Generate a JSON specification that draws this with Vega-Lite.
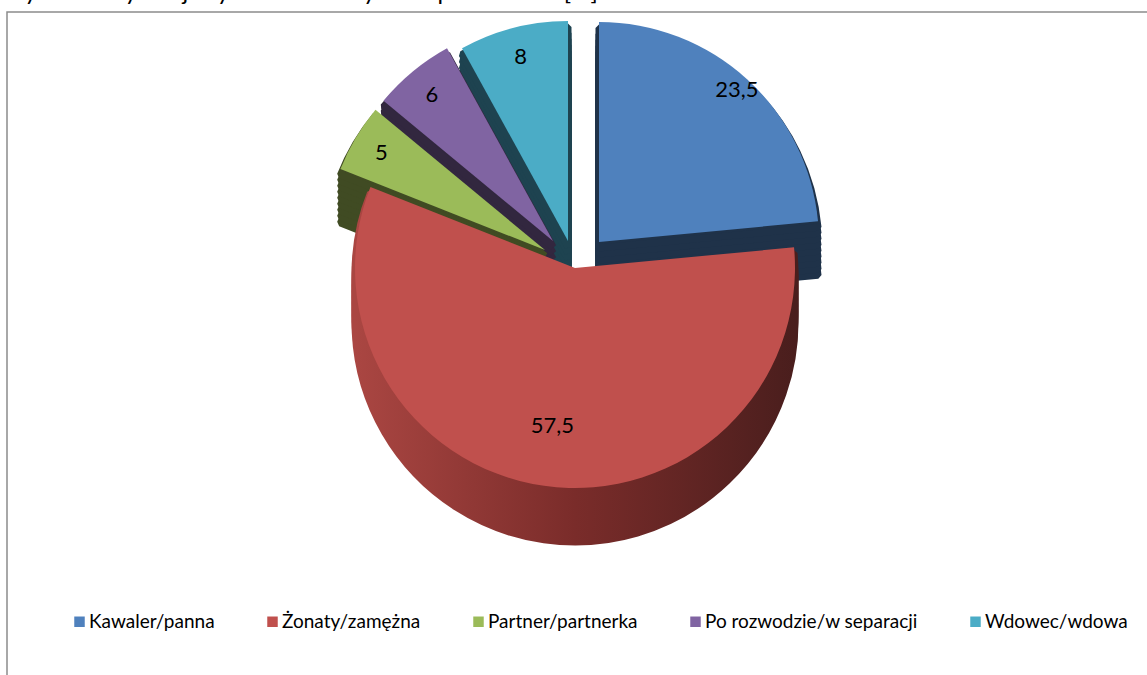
{
"$schema": "https://vega.github.io/schema/vega-lite/v6.json",
"width": 1150, "height": 668,
"autosize": {"type": "none"},
"padding": {"left": 7, "top": 12, "right": 0, "bottom": 0},
"background": "white",
"view": {"stroke": "#8C8C8C", "strokeWidth": 1.5, "fill": null},
"title": {"text": "Wykres 3. Sytuacja życiowa dorosłych respondentów [%].", "anchor": "start", "frame": "group", "orient": "top", "offset": -12, "baseline": "alphabetic", "fontSize": 24, "font": "Lato", "fontWeight": "normal", "color": "black", "dx": -7},
"config": {"view": {"stroke": "#8C8C8C", "strokeWidth": 1.5}, "font": "Lato"},
"data": {"values": [
 {"idx": 1, "cat": "Kawaler/panna", "value": 23.5, "label": "23,5"},
 {"idx": 2, "cat": "Żonaty/zamężna", "value": 57.5, "label": "57,5"},
 {"idx": 3, "cat": "Partner/partnerka", "value": 5, "label": "5"},
 {"idx": 4, "cat": "Po rozwodzie/w separacji", "value": 6, "label": "6"},
 {"idx": 5, "cat": "Wdowec/wdowa", "value": 8, "label": "8"}
]},
"transform": [{"stack": "value", "groupby": [], "sort": [{"field": "idx", "order": "ascending"}], "as": ["v0", "v1"]}],
"layer": [
 {"transform": [{"filter": {"field": "idx", "equal": 5}}], "mark": {"type": "arc", "radius": 220, "xOffset": -14, "yOffset": -51, "fill": "#1E4350", "stroke": "#1E4350", "strokeWidth": 7, "strokeJoin": "bevel"}, "encoding": {"theta": {"field": "v0", "type": "quantitative", "scale": {"domain": [0, 100]}, "stack": null}, "theta2": {"field": "v1"}}},
 {"transform": [{"filter": {"field": "idx", "equal": 5}}], "mark": {"type": "arc", "radius": 220, "xOffset": -14, "yOffset": -57, "fill": "#1E4350", "stroke": "#1E4350", "strokeWidth": 7, "strokeJoin": "bevel"}, "encoding": {"theta": {"field": "v0", "type": "quantitative", "scale": {"domain": [0, 100]}, "stack": null}, "theta2": {"field": "v1"}}},
 {"transform": [{"filter": {"field": "idx", "equal": 5}}], "mark": {"type": "arc", "radius": 220, "xOffset": -14, "yOffset": -63, "fill": "#1E4350", "stroke": "#1E4350", "strokeWidth": 7, "strokeJoin": "bevel"}, "encoding": {"theta": {"field": "v0", "type": "quantitative", "scale": {"domain": [0, 100]}, "stack": null}, "theta2": {"field": "v1"}}},
 {"transform": [{"filter": {"field": "idx", "equal": 5}}], "mark": {"type": "arc", "radius": 220, "xOffset": -14, "yOffset": -69, "fill": "#1E4350", "stroke": "#1E4350", "strokeWidth": 7, "strokeJoin": "bevel"}, "encoding": {"theta": {"field": "v0", "type": "quantitative", "scale": {"domain": [0, 100]}, "stack": null}, "theta2": {"field": "v1"}}},
 {"transform": [{"filter": {"field": "idx", "equal": 5}}], "mark": {"type": "arc", "radius": 220, "xOffset": -14, "yOffset": -75, "fill": "#1E4350", "stroke": "#1E4350", "strokeWidth": 7, "strokeJoin": "bevel"}, "encoding": {"theta": {"field": "v0", "type": "quantitative", "scale": {"domain": [0, 100]}, "stack": null}, "theta2": {"field": "v1"}}},
 {"transform": [{"filter": {"field": "idx", "equal": 5}}], "mark": {"type": "arc", "radius": 220, "xOffset": -14, "yOffset": -81, "fill": "#1E4350", "stroke": "#1E4350", "strokeWidth": 7, "strokeJoin": "bevel"}, "encoding": {"theta": {"field": "v0", "type": "quantitative", "scale": {"domain": [0, 100]}, "stack": null}, "theta2": {"field": "v1"}}},
 {"transform": [{"filter": {"field": "idx", "equal": 5}}], "mark": {"type": "arc", "radius": 220, "xOffset": -14, "yOffset": -87, "fill": "#1E4350", "stroke": "#1E4350", "strokeWidth": 7, "strokeJoin": "bevel"}, "encoding": {"theta": {"field": "v0", "type": "quantitative", "scale": {"domain": [0, 100]}, "stack": null}, "theta2": {"field": "v1"}}},
 {"transform": [{"filter": {"field": "idx", "equal": 5}}], "mark": {"type": "arc", "radius": 220, "xOffset": -14, "yOffset": -93, "fill": "#1E4350", "stroke": "#1E4350", "strokeWidth": 7, "strokeJoin": "bevel"}, "encoding": {"theta": {"field": "v0", "type": "quantitative", "scale": {"domain": [0, 100]}, "stack": null}, "theta2": {"field": "v1"}}},
 {"transform": [{"filter": {"field": "idx", "equal": 5}}], "mark": {"type": "arc", "radius": 220, "xOffset": -14, "yOffset": -99, "fill": "#1E4350", "stroke": "#1E4350", "strokeWidth": 7, "strokeJoin": "bevel"}, "encoding": {"theta": {"field": "v0", "type": "quantitative", "scale": {"domain": [0, 100]}, "stack": null}, "theta2": {"field": "v1"}}},
 {"transform": [{"filter": {"field": "idx", "equal": 5}}], "mark": {"type": "arc", "radius": 220, "xOffset": -14, "yOffset": -105}, "encoding": {"theta": {"field": "v0", "type": "quantitative", "scale": {"domain": [0, 100]}, "stack": null}, "theta2": {"field": "v1"}, "color": {"field": "cat", "type": "nominal", "scale": {"domain": ["Kawaler/panna", "Żonaty/zamężna", "Partner/partnerka", "Po rozwodzie/w separacji", "Wdowec/wdowa"], "range": ["#4F81BD", "#C0504D", "#9BBB59", "#8064A2", "#4BACC6"]}, "legend": {"orient": "none", "legendX": 63, "legendY": 600, "direction": "horizontal", "columns": 5, "title": null, "symbolType": "square", "symbolSize": 110, "symbolStrokeWidth": 0, "labelFontSize": 19, "labelFont": "Lato", "labelColor": "black", "columnPadding": 48, "labelOffset": 0, "padding": 0, "labelLimit": 400}}}},

 {"transform": [{"filter": {"field": "idx", "equal": 4}}], "mark": {"type": "arc", "radius": 220, "xOffset": -29, "yOffset": -51, "fill": "#32273F", "stroke": "#32273F", "strokeWidth": 7, "strokeJoin": "bevel"}, "encoding": {"theta": {"field": "v0", "type": "quantitative", "scale": {"domain": [0, 100]}, "stack": null}, "theta2": {"field": "v1"}}},
 {"transform": [{"filter": {"field": "idx", "equal": 4}}], "mark": {"type": "arc", "radius": 220, "xOffset": -29, "yOffset": -57, "fill": "#32273F", "stroke": "#32273F", "strokeWidth": 7, "strokeJoin": "bevel"}, "encoding": {"theta": {"field": "v0", "type": "quantitative", "scale": {"domain": [0, 100]}, "stack": null}, "theta2": {"field": "v1"}}},
 {"transform": [{"filter": {"field": "idx", "equal": 4}}], "mark": {"type": "arc", "radius": 220, "xOffset": -29, "yOffset": -63, "fill": "#32273F", "stroke": "#32273F", "strokeWidth": 7, "strokeJoin": "bevel"}, "encoding": {"theta": {"field": "v0", "type": "quantitative", "scale": {"domain": [0, 100]}, "stack": null}, "theta2": {"field": "v1"}}},
 {"transform": [{"filter": {"field": "idx", "equal": 4}}], "mark": {"type": "arc", "radius": 220, "xOffset": -29, "yOffset": -69, "fill": "#32273F", "stroke": "#32273F", "strokeWidth": 7, "strokeJoin": "bevel"}, "encoding": {"theta": {"field": "v0", "type": "quantitative", "scale": {"domain": [0, 100]}, "stack": null}, "theta2": {"field": "v1"}}},
 {"transform": [{"filter": {"field": "idx", "equal": 4}}], "mark": {"type": "arc", "radius": 220, "xOffset": -29, "yOffset": -75, "fill": "#32273F", "stroke": "#32273F", "strokeWidth": 7, "strokeJoin": "bevel"}, "encoding": {"theta": {"field": "v0", "type": "quantitative", "scale": {"domain": [0, 100]}, "stack": null}, "theta2": {"field": "v1"}}},
 {"transform": [{"filter": {"field": "idx", "equal": 4}}], "mark": {"type": "arc", "radius": 220, "xOffset": -29, "yOffset": -81, "fill": "#32273F", "stroke": "#32273F", "strokeWidth": 7, "strokeJoin": "bevel"}, "encoding": {"theta": {"field": "v0", "type": "quantitative", "scale": {"domain": [0, 100]}, "stack": null}, "theta2": {"field": "v1"}}},
 {"transform": [{"filter": {"field": "idx", "equal": 4}}], "mark": {"type": "arc", "radius": 220, "xOffset": -29, "yOffset": -87, "fill": "#32273F", "stroke": "#32273F", "strokeWidth": 7, "strokeJoin": "bevel"}, "encoding": {"theta": {"field": "v0", "type": "quantitative", "scale": {"domain": [0, 100]}, "stack": null}, "theta2": {"field": "v1"}}},
 {"transform": [{"filter": {"field": "idx", "equal": 4}}], "mark": {"type": "arc", "radius": 220, "xOffset": -29, "yOffset": -93, "fill": "#32273F", "stroke": "#32273F", "strokeWidth": 7, "strokeJoin": "bevel"}, "encoding": {"theta": {"field": "v0", "type": "quantitative", "scale": {"domain": [0, 100]}, "stack": null}, "theta2": {"field": "v1"}}},
 {"transform": [{"filter": {"field": "idx", "equal": 4}}], "mark": {"type": "arc", "radius": 220, "xOffset": -29, "yOffset": -99, "fill": "#32273F", "stroke": "#32273F", "strokeWidth": 7, "strokeJoin": "bevel"}, "encoding": {"theta": {"field": "v0", "type": "quantitative", "scale": {"domain": [0, 100]}, "stack": null}, "theta2": {"field": "v1"}}},
 {"transform": [{"filter": {"field": "idx", "equal": 4}}], "mark": {"type": "arc", "radius": 220, "xOffset": -29, "yOffset": -105}, "encoding": {"theta": {"field": "v0", "type": "quantitative", "scale": {"domain": [0, 100]}, "stack": null}, "theta2": {"field": "v1"}, "color": {"field": "cat", "type": "nominal", "scale": {"domain": ["Kawaler/panna", "Żonaty/zamężna", "Partner/partnerka", "Po rozwodzie/w separacji", "Wdowec/wdowa"], "range": ["#4F81BD", "#C0504D", "#9BBB59", "#8064A2", "#4BACC6"]}, "legend": {"orient": "none", "legendX": 63, "legendY": 600, "direction": "horizontal", "columns": 5, "title": null, "symbolType": "square", "symbolSize": 110, "symbolStrokeWidth": 0, "labelFontSize": 19, "labelFont": "Lato", "labelColor": "black", "columnPadding": 48, "labelOffset": 0, "padding": 0, "labelLimit": 400}}}},

 {"transform": [{"filter": {"field": "idx", "equal": 3}}], "mark": {"type": "arc", "radius": 220, "xOffset": -37, "yOffset": -42, "fill": "#404B23", "stroke": "#404B23", "strokeWidth": 7, "strokeJoin": "bevel"}, "encoding": {"theta": {"field": "v0", "type": "quantitative", "scale": {"domain": [0, 100]}, "stack": null}, "theta2": {"field": "v1"}}},
 {"transform": [{"filter": {"field": "idx", "equal": 3}}], "mark": {"type": "arc", "radius": 220, "xOffset": -37, "yOffset": -48, "fill": "#404B23", "stroke": "#404B23", "strokeWidth": 7, "strokeJoin": "bevel"}, "encoding": {"theta": {"field": "v0", "type": "quantitative", "scale": {"domain": [0, 100]}, "stack": null}, "theta2": {"field": "v1"}}},
 {"transform": [{"filter": {"field": "idx", "equal": 3}}], "mark": {"type": "arc", "radius": 220, "xOffset": -37, "yOffset": -54, "fill": "#404B23", "stroke": "#404B23", "strokeWidth": 7, "strokeJoin": "bevel"}, "encoding": {"theta": {"field": "v0", "type": "quantitative", "scale": {"domain": [0, 100]}, "stack": null}, "theta2": {"field": "v1"}}},
 {"transform": [{"filter": {"field": "idx", "equal": 3}}], "mark": {"type": "arc", "radius": 220, "xOffset": -37, "yOffset": -60, "fill": "#404B23", "stroke": "#404B23", "strokeWidth": 7, "strokeJoin": "bevel"}, "encoding": {"theta": {"field": "v0", "type": "quantitative", "scale": {"domain": [0, 100]}, "stack": null}, "theta2": {"field": "v1"}}},
 {"transform": [{"filter": {"field": "idx", "equal": 3}}], "mark": {"type": "arc", "radius": 220, "xOffset": -37, "yOffset": -66, "fill": "#404B23", "stroke": "#404B23", "strokeWidth": 7, "strokeJoin": "bevel"}, "encoding": {"theta": {"field": "v0", "type": "quantitative", "scale": {"domain": [0, 100]}, "stack": null}, "theta2": {"field": "v1"}}},
 {"transform": [{"filter": {"field": "idx", "equal": 3}}], "mark": {"type": "arc", "radius": 220, "xOffset": -37, "yOffset": -72, "fill": "#404B23", "stroke": "#404B23", "strokeWidth": 7, "strokeJoin": "bevel"}, "encoding": {"theta": {"field": "v0", "type": "quantitative", "scale": {"domain": [0, 100]}, "stack": null}, "theta2": {"field": "v1"}}},
 {"transform": [{"filter": {"field": "idx", "equal": 3}}], "mark": {"type": "arc", "radius": 220, "xOffset": -37, "yOffset": -78, "fill": "#404B23", "stroke": "#404B23", "strokeWidth": 7, "strokeJoin": "bevel"}, "encoding": {"theta": {"field": "v0", "type": "quantitative", "scale": {"domain": [0, 100]}, "stack": null}, "theta2": {"field": "v1"}}},
 {"transform": [{"filter": {"field": "idx", "equal": 3}}], "mark": {"type": "arc", "radius": 220, "xOffset": -37, "yOffset": -84, "fill": "#404B23", "stroke": "#404B23", "strokeWidth": 7, "strokeJoin": "bevel"}, "encoding": {"theta": {"field": "v0", "type": "quantitative", "scale": {"domain": [0, 100]}, "stack": null}, "theta2": {"field": "v1"}}},
 {"transform": [{"filter": {"field": "idx", "equal": 3}}], "mark": {"type": "arc", "radius": 220, "xOffset": -37, "yOffset": -90, "fill": "#404B23", "stroke": "#404B23", "strokeWidth": 7, "strokeJoin": "bevel"}, "encoding": {"theta": {"field": "v0", "type": "quantitative", "scale": {"domain": [0, 100]}, "stack": null}, "theta2": {"field": "v1"}}},
 {"transform": [{"filter": {"field": "idx", "equal": 3}}], "mark": {"type": "arc", "radius": 220, "xOffset": -37, "yOffset": -96}, "encoding": {"theta": {"field": "v0", "type": "quantitative", "scale": {"domain": [0, 100]}, "stack": null}, "theta2": {"field": "v1"}, "color": {"field": "cat", "type": "nominal", "scale": {"domain": ["Kawaler/panna", "Żonaty/zamężna", "Partner/partnerka", "Po rozwodzie/w separacji", "Wdowec/wdowa"], "range": ["#4F81BD", "#C0504D", "#9BBB59", "#8064A2", "#4BACC6"]}, "legend": {"orient": "none", "legendX": 63, "legendY": 600, "direction": "horizontal", "columns": 5, "title": null, "symbolType": "square", "symbolSize": 110, "symbolStrokeWidth": 0, "labelFontSize": 19, "labelFont": "Lato", "labelColor": "black", "columnPadding": 48, "labelOffset": 0, "padding": 0, "labelLimit": 400}}}},

 {"transform": [{"filter": {"field": "idx", "equal": 1}}], "mark": {"type": "arc", "radius": 220, "xOffset": 17, "yOffset": -50, "fill": "#1F3249", "stroke": "#1F3249", "strokeWidth": 7, "strokeJoin": "bevel"}, "encoding": {"theta": {"field": "v0", "type": "quantitative", "scale": {"domain": [0, 100]}, "stack": null}, "theta2": {"field": "v1"}}},
 {"transform": [{"filter": {"field": "idx", "equal": 1}}], "mark": {"type": "arc", "radius": 220, "xOffset": 17, "yOffset": -56, "fill": "#1F3249", "stroke": "#1F3249", "strokeWidth": 7, "strokeJoin": "bevel"}, "encoding": {"theta": {"field": "v0", "type": "quantitative", "scale": {"domain": [0, 100]}, "stack": null}, "theta2": {"field": "v1"}}},
 {"transform": [{"filter": {"field": "idx", "equal": 1}}], "mark": {"type": "arc", "radius": 220, "xOffset": 17, "yOffset": -62, "fill": "#1F3249", "stroke": "#1F3249", "strokeWidth": 7, "strokeJoin": "bevel"}, "encoding": {"theta": {"field": "v0", "type": "quantitative", "scale": {"domain": [0, 100]}, "stack": null}, "theta2": {"field": "v1"}}},
 {"transform": [{"filter": {"field": "idx", "equal": 1}}], "mark": {"type": "arc", "radius": 220, "xOffset": 17, "yOffset": -68, "fill": "#1F3249", "stroke": "#1F3249", "strokeWidth": 7, "strokeJoin": "bevel"}, "encoding": {"theta": {"field": "v0", "type": "quantitative", "scale": {"domain": [0, 100]}, "stack": null}, "theta2": {"field": "v1"}}},
 {"transform": [{"filter": {"field": "idx", "equal": 1}}], "mark": {"type": "arc", "radius": 220, "xOffset": 17, "yOffset": -74, "fill": "#1F3249", "stroke": "#1F3249", "strokeWidth": 7, "strokeJoin": "bevel"}, "encoding": {"theta": {"field": "v0", "type": "quantitative", "scale": {"domain": [0, 100]}, "stack": null}, "theta2": {"field": "v1"}}},
 {"transform": [{"filter": {"field": "idx", "equal": 1}}], "mark": {"type": "arc", "radius": 220, "xOffset": 17, "yOffset": -80, "fill": "#1F3249", "stroke": "#1F3249", "strokeWidth": 7, "strokeJoin": "bevel"}, "encoding": {"theta": {"field": "v0", "type": "quantitative", "scale": {"domain": [0, 100]}, "stack": null}, "theta2": {"field": "v1"}}},
 {"transform": [{"filter": {"field": "idx", "equal": 1}}], "mark": {"type": "arc", "radius": 220, "xOffset": 17, "yOffset": -86, "fill": "#1F3249", "stroke": "#1F3249", "strokeWidth": 7, "strokeJoin": "bevel"}, "encoding": {"theta": {"field": "v0", "type": "quantitative", "scale": {"domain": [0, 100]}, "stack": null}, "theta2": {"field": "v1"}}},
 {"transform": [{"filter": {"field": "idx", "equal": 1}}], "mark": {"type": "arc", "radius": 220, "xOffset": 17, "yOffset": -92, "fill": "#1F3249", "stroke": "#1F3249", "strokeWidth": 7, "strokeJoin": "bevel"}, "encoding": {"theta": {"field": "v0", "type": "quantitative", "scale": {"domain": [0, 100]}, "stack": null}, "theta2": {"field": "v1"}}},
 {"transform": [{"filter": {"field": "idx", "equal": 1}}], "mark": {"type": "arc", "radius": 220, "xOffset": 17, "yOffset": -98, "fill": "#1F3249", "stroke": "#1F3249", "strokeWidth": 7, "strokeJoin": "bevel"}, "encoding": {"theta": {"field": "v0", "type": "quantitative", "scale": {"domain": [0, 100]}, "stack": null}, "theta2": {"field": "v1"}}},
 {"transform": [{"filter": {"field": "idx", "equal": 1}}], "mark": {"type": "arc", "radius": 220, "xOffset": 17, "yOffset": -104}, "encoding": {"theta": {"field": "v0", "type": "quantitative", "scale": {"domain": [0, 100]}, "stack": null}, "theta2": {"field": "v1"}, "color": {"field": "cat", "type": "nominal", "scale": {"domain": ["Kawaler/panna", "Żonaty/zamężna", "Partner/partnerka", "Po rozwodzie/w separacji", "Wdowec/wdowa"], "range": ["#4F81BD", "#C0504D", "#9BBB59", "#8064A2", "#4BACC6"]}, "legend": {"orient": "none", "legendX": 63, "legendY": 600, "direction": "horizontal", "columns": 5, "title": null, "symbolType": "square", "symbolSize": 110, "symbolStrokeWidth": 0, "labelFontSize": 19, "labelFont": "Lato", "labelColor": "black", "columnPadding": 48, "labelOffset": 0, "padding": 0, "labelLimit": 400}}}},

 {"transform": [{"filter": {"field": "idx", "equal": 2}}], "mark": {"type": "arc", "radius": 220, "xOffset": -7, "yOffset": -24, "fill": {"gradient": "linear", "x1": 0, "y1": 0, "x2": 1, "y2": 0, "stops": [{"offset": 0, "color": "#AA4642"}, {"offset": 0.5, "color": "#7A2C2A"}, {"offset": 1, "color": "#4A1E1D"}]}, "stroke": {"gradient": "linear", "x1": 0, "y1": 0, "x2": 1, "y2": 0, "stops": [{"offset": 0, "color": "#AA4642"}, {"offset": 0.5, "color": "#7A2C2A"}, {"offset": 1, "color": "#4A1E1D"}]}, "strokeWidth": 7, "strokeJoin": "bevel"}, "encoding": {"theta": {"field": "v0", "type": "quantitative", "scale": {"domain": [0, 100]}, "stack": null}, "theta2": {"field": "v1"}}},
 {"transform": [{"filter": {"field": "idx", "equal": 2}}], "mark": {"type": "arc", "radius": 220, "xOffset": -7, "yOffset": -30, "fill": {"gradient": "linear", "x1": 0, "y1": 0, "x2": 1, "y2": 0, "stops": [{"offset": 0, "color": "#AA4642"}, {"offset": 0.5, "color": "#7A2C2A"}, {"offset": 1, "color": "#4A1E1D"}]}, "stroke": {"gradient": "linear", "x1": 0, "y1": 0, "x2": 1, "y2": 0, "stops": [{"offset": 0, "color": "#AA4642"}, {"offset": 0.5, "color": "#7A2C2A"}, {"offset": 1, "color": "#4A1E1D"}]}, "strokeWidth": 7, "strokeJoin": "bevel"}, "encoding": {"theta": {"field": "v0", "type": "quantitative", "scale": {"domain": [0, 100]}, "stack": null}, "theta2": {"field": "v1"}}},
 {"transform": [{"filter": {"field": "idx", "equal": 2}}], "mark": {"type": "arc", "radius": 220, "xOffset": -7, "yOffset": -36, "fill": {"gradient": "linear", "x1": 0, "y1": 0, "x2": 1, "y2": 0, "stops": [{"offset": 0, "color": "#AA4642"}, {"offset": 0.5, "color": "#7A2C2A"}, {"offset": 1, "color": "#4A1E1D"}]}, "stroke": {"gradient": "linear", "x1": 0, "y1": 0, "x2": 1, "y2": 0, "stops": [{"offset": 0, "color": "#AA4642"}, {"offset": 0.5, "color": "#7A2C2A"}, {"offset": 1, "color": "#4A1E1D"}]}, "strokeWidth": 7, "strokeJoin": "bevel"}, "encoding": {"theta": {"field": "v0", "type": "quantitative", "scale": {"domain": [0, 100]}, "stack": null}, "theta2": {"field": "v1"}}},
 {"transform": [{"filter": {"field": "idx", "equal": 2}}], "mark": {"type": "arc", "radius": 220, "xOffset": -7, "yOffset": -42, "fill": {"gradient": "linear", "x1": 0, "y1": 0, "x2": 1, "y2": 0, "stops": [{"offset": 0, "color": "#AA4642"}, {"offset": 0.5, "color": "#7A2C2A"}, {"offset": 1, "color": "#4A1E1D"}]}, "stroke": {"gradient": "linear", "x1": 0, "y1": 0, "x2": 1, "y2": 0, "stops": [{"offset": 0, "color": "#AA4642"}, {"offset": 0.5, "color": "#7A2C2A"}, {"offset": 1, "color": "#4A1E1D"}]}, "strokeWidth": 7, "strokeJoin": "bevel"}, "encoding": {"theta": {"field": "v0", "type": "quantitative", "scale": {"domain": [0, 100]}, "stack": null}, "theta2": {"field": "v1"}}},
 {"transform": [{"filter": {"field": "idx", "equal": 2}}], "mark": {"type": "arc", "radius": 220, "xOffset": -7, "yOffset": -48, "fill": {"gradient": "linear", "x1": 0, "y1": 0, "x2": 1, "y2": 0, "stops": [{"offset": 0, "color": "#AA4642"}, {"offset": 0.5, "color": "#7A2C2A"}, {"offset": 1, "color": "#4A1E1D"}]}, "stroke": {"gradient": "linear", "x1": 0, "y1": 0, "x2": 1, "y2": 0, "stops": [{"offset": 0, "color": "#AA4642"}, {"offset": 0.5, "color": "#7A2C2A"}, {"offset": 1, "color": "#4A1E1D"}]}, "strokeWidth": 7, "strokeJoin": "bevel"}, "encoding": {"theta": {"field": "v0", "type": "quantitative", "scale": {"domain": [0, 100]}, "stack": null}, "theta2": {"field": "v1"}}},
 {"transform": [{"filter": {"field": "idx", "equal": 2}}], "mark": {"type": "arc", "radius": 220, "xOffset": -7, "yOffset": -54, "fill": {"gradient": "linear", "x1": 0, "y1": 0, "x2": 1, "y2": 0, "stops": [{"offset": 0, "color": "#AA4642"}, {"offset": 0.5, "color": "#7A2C2A"}, {"offset": 1, "color": "#4A1E1D"}]}, "stroke": {"gradient": "linear", "x1": 0, "y1": 0, "x2": 1, "y2": 0, "stops": [{"offset": 0, "color": "#AA4642"}, {"offset": 0.5, "color": "#7A2C2A"}, {"offset": 1, "color": "#4A1E1D"}]}, "strokeWidth": 7, "strokeJoin": "bevel"}, "encoding": {"theta": {"field": "v0", "type": "quantitative", "scale": {"domain": [0, 100]}, "stack": null}, "theta2": {"field": "v1"}}},
 {"transform": [{"filter": {"field": "idx", "equal": 2}}], "mark": {"type": "arc", "radius": 220, "xOffset": -7, "yOffset": -60, "fill": {"gradient": "linear", "x1": 0, "y1": 0, "x2": 1, "y2": 0, "stops": [{"offset": 0, "color": "#AA4642"}, {"offset": 0.5, "color": "#7A2C2A"}, {"offset": 1, "color": "#4A1E1D"}]}, "stroke": {"gradient": "linear", "x1": 0, "y1": 0, "x2": 1, "y2": 0, "stops": [{"offset": 0, "color": "#AA4642"}, {"offset": 0.5, "color": "#7A2C2A"}, {"offset": 1, "color": "#4A1E1D"}]}, "strokeWidth": 7, "strokeJoin": "bevel"}, "encoding": {"theta": {"field": "v0", "type": "quantitative", "scale": {"domain": [0, 100]}, "stack": null}, "theta2": {"field": "v1"}}},
 {"transform": [{"filter": {"field": "idx", "equal": 2}}], "mark": {"type": "arc", "radius": 220, "xOffset": -7, "yOffset": -66, "fill": {"gradient": "linear", "x1": 0, "y1": 0, "x2": 1, "y2": 0, "stops": [{"offset": 0, "color": "#AA4642"}, {"offset": 0.5, "color": "#7A2C2A"}, {"offset": 1, "color": "#4A1E1D"}]}, "stroke": {"gradient": "linear", "x1": 0, "y1": 0, "x2": 1, "y2": 0, "stops": [{"offset": 0, "color": "#AA4642"}, {"offset": 0.5, "color": "#7A2C2A"}, {"offset": 1, "color": "#4A1E1D"}]}, "strokeWidth": 7, "strokeJoin": "bevel"}, "encoding": {"theta": {"field": "v0", "type": "quantitative", "scale": {"domain": [0, 100]}, "stack": null}, "theta2": {"field": "v1"}}},
 {"transform": [{"filter": {"field": "idx", "equal": 2}}], "mark": {"type": "arc", "radius": 220, "xOffset": -7, "yOffset": -72, "fill": {"gradient": "linear", "x1": 0, "y1": 0, "x2": 1, "y2": 0, "stops": [{"offset": 0, "color": "#AA4642"}, {"offset": 0.5, "color": "#7A2C2A"}, {"offset": 1, "color": "#4A1E1D"}]}, "stroke": {"gradient": "linear", "x1": 0, "y1": 0, "x2": 1, "y2": 0, "stops": [{"offset": 0, "color": "#AA4642"}, {"offset": 0.5, "color": "#7A2C2A"}, {"offset": 1, "color": "#4A1E1D"}]}, "strokeWidth": 7, "strokeJoin": "bevel"}, "encoding": {"theta": {"field": "v0", "type": "quantitative", "scale": {"domain": [0, 100]}, "stack": null}, "theta2": {"field": "v1"}}},
 {"transform": [{"filter": {"field": "idx", "equal": 2}}], "mark": {"type": "arc", "radius": 220, "xOffset": -7, "yOffset": -78}, "encoding": {"theta": {"field": "v0", "type": "quantitative", "scale": {"domain": [0, 100]}, "stack": null}, "theta2": {"field": "v1"}, "color": {"field": "cat", "type": "nominal", "scale": {"domain": ["Kawaler/panna", "Żonaty/zamężna", "Partner/partnerka", "Po rozwodzie/w separacji", "Wdowec/wdowa"], "range": ["#4F81BD", "#C0504D", "#9BBB59", "#8064A2", "#4BACC6"]}, "legend": {"orient": "none", "legendX": 63, "legendY": 600, "direction": "horizontal", "columns": 5, "title": null, "symbolType": "square", "symbolSize": 110, "symbolStrokeWidth": 0, "labelFontSize": 19, "labelFont": "Lato", "labelColor": "black", "columnPadding": 48, "labelOffset": 0, "padding": 0, "labelLimit": 400}}}},

 {"mark": {"type": "text", "radius": 205, "xOffset": 17, "yOffset": -104, "fontSize": 22, "font": "Lato", "color": "black"}, "encoding": {"theta": {"field": "value", "type": "quantitative", "stack": true, "scale": {"domain": [0, 100]}}, "order": {"field": "idx", "type": "quantitative"}, "text": {"field": "label"}, "opacity": {"condition": {"test": "datum.idx === 1", "value": 1}, "value": 0}}},
 {"mark": {"type": "text", "radius": 160, "xOffset": -7, "yOffset": -78, "fontSize": 22, "font": "Lato", "color": "black"}, "encoding": {"theta": {"field": "value", "type": "quantitative", "stack": true, "scale": {"domain": [0, 100]}}, "order": {"field": "idx", "type": "quantitative"}, "text": {"field": "label"}, "opacity": {"condition": {"test": "datum.idx === 2", "value": 1}, "value": 0}}},
 {"mark": {"type": "text", "radius": 190, "xOffset": -37, "yOffset": -96, "fontSize": 22, "font": "Lato", "color": "black"}, "encoding": {"theta": {"field": "value", "type": "quantitative", "stack": true, "scale": {"domain": [0, 100]}}, "order": {"field": "idx", "type": "quantitative"}, "text": {"field": "label"}, "opacity": {"condition": {"test": "datum.idx === 3", "value": 1}, "value": 0}}},
 {"mark": {"type": "text", "radius": 190, "xOffset": -29, "yOffset": -105, "fontSize": 22, "font": "Lato", "color": "black"}, "encoding": {"theta": {"field": "value", "type": "quantitative", "stack": true, "scale": {"domain": [0, 100]}}, "order": {"field": "idx", "type": "quantitative"}, "text": {"field": "label"}, "opacity": {"condition": {"test": "datum.idx === 4", "value": 1}, "value": 0}}},
 {"mark": {"type": "text", "radius": 190, "xOffset": -14, "yOffset": -105, "fontSize": 22, "font": "Lato", "color": "black"}, "encoding": {"theta": {"field": "value", "type": "quantitative", "stack": true, "scale": {"domain": [0, 100]}}, "order": {"field": "idx", "type": "quantitative"}, "text": {"field": "label"}, "opacity": {"condition": {"test": "datum.idx === 5", "value": 1}, "value": 0}}}
]
}
